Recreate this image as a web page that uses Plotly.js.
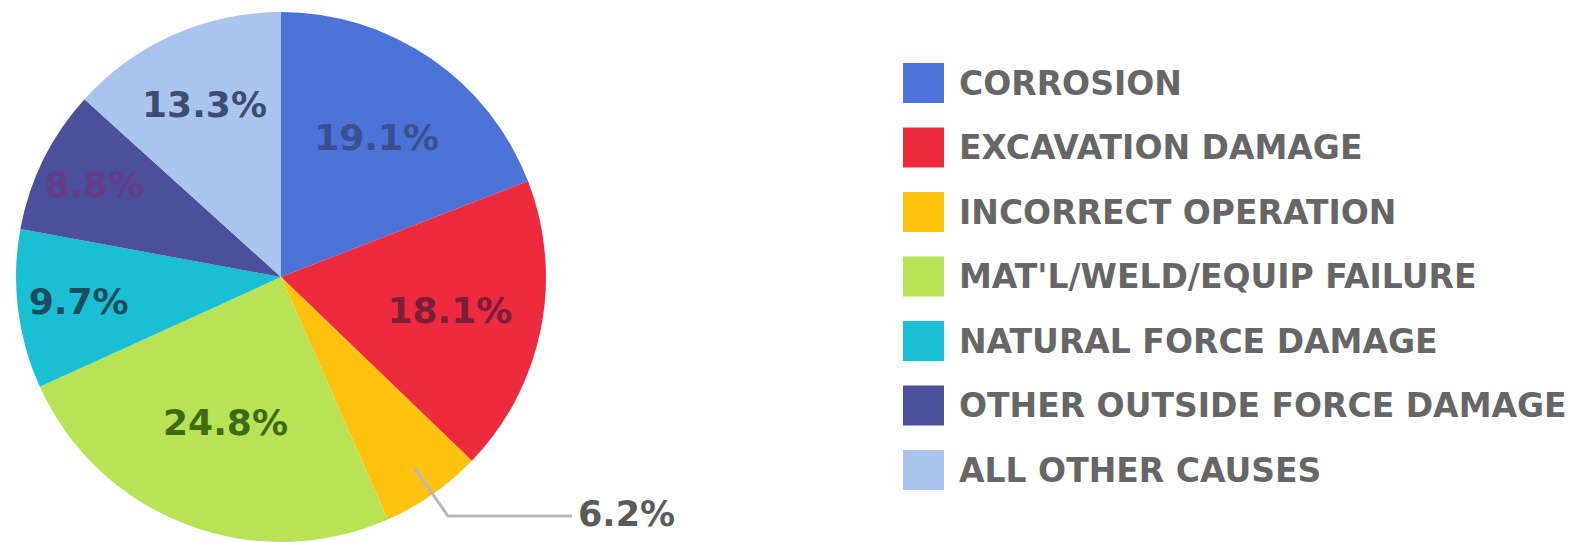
<!DOCTYPE html>
<html>
<head>
<meta charset="utf-8">
<script src="https://cdn.plot.ly/plotly-3.0.1.min.js"></script>
<style>html,body{margin:0;padding:0;background:#fff;}#chart{width:1591px;height:542px;}</style>
</head>
<body>
<div id="chart"></div>
<script>
const categories = ["CORROSION","EXCAVATION DAMAGE","INCORRECT OPERATION","MAT'L/WELD/EQUIP FAILURE","NATURAL FORCE DAMAGE","OTHER OUTSIDE FORCE DAMAGE","ALL OTHER CAUSES"];
const values = [19.1, 18.1, 6.2, 24.8, 9.7, 8.8, 13.3];
const sliceColors = ["#4b73d8","#ee2a3f","#ffc20e","#b8e356","#1bbfd4","#4b4f9c","#aac4ee"];
const labelColors = ["#3a4f8f","#7a1f3a","#8a6a00","#3d6b12","#1b4d5e","#643f88","#3b4e72"];
const outsideIndex = 2;

const W = 1591, H = 542;
const cx = 281, cy = 277, R = 265;

const textTexts = values.map((v,i) => i === outsideIndex ? "" : v.toFixed(1) + "%");
const textPos = values.map((v,i) => i === outsideIndex ? "none" : "inside");

const trace = {
  type: "pie",
  labels: categories,
  values: values,
  sort: false,
  direction: "clockwise",
  rotation: 0,
  text: textTexts,
  textinfo: "text",
  textposition: textPos,
  insidetextorientation: "horizontal",
  insidetextfont: {family: "DejaVu Sans", size: 36, color: labelColors, weight: "bold"},
  marker: {colors: sliceColors, line: {width: 0}},
  domain: {x: [(cx - R) / W, (cx + R) / W], y: [Math.max(0, 1 - (cy + R) / H), 1 - (cy - R) / H]},
  showlegend: false,
  hoverinfo: "label+percent"
};

const shapes = [];
const annotations = [];

// legend built from categories and colours
const legX = 903, legW = 41, legTop = 83, legStep = 64.5;
categories.forEach((c, i) => {
  const yc = legTop + i * legStep;
  shapes.push({type: "rect", xref: "paper", yref: "paper",
    x0: legX / W, x1: (legX + legW) / W, y0: 1 - (yc + 20) / H, y1: 1 - (yc - 20) / H,
    fillcolor: sliceColors[i], line: {width: 0}});
  annotations.push({xref: "paper", yref: "paper", x: 957 / W, y: 1 - yc / H,
    xanchor: "left", yanchor: "middle", showarrow: false, text: c,
    font: {family: "DejaVu Sans", size: 33, color: "#666666", weight: "bold"}});
});

// leader line for the small slice, derived from its mid angle
const total = values.reduce((a, b) => a + b, 0);
const before = values.slice(0, outsideIndex).reduce((a, b) => a + b, 0);
const midFrac = (before + values[outsideIndex] / 2) / total;
const ang = midFrac * 2 * Math.PI;
const p0x = cx + Math.sin(ang) * R * 0.88, p0y = cy - Math.cos(ang) * R * 0.88;
const p1x = 448, p1y = 516, p2x = 572;
const px = x => x / W, py = y => 1 - y / H;
shapes.push({type: "path", xref: "paper", yref: "paper",
  path: `M ${px(p0x)} ${py(p0y)} L ${px(p1x)} ${py(p1y)} L ${px(p2x)} ${py(p1y)}`,
  line: {color: "#b8b8b8", width: 3}});
annotations.push({xref: "paper", yref: "paper", x: px(p2x + 4), y: py(p1y - 2),
  xanchor: "left", yanchor: "middle", showarrow: false,
  text: values[outsideIndex].toFixed(1) + "%",
  font: {family: "DejaVu Sans", size: 35, color: "#5a5a5a", weight: "bold"}});

const layout = {
  width: W, height: H,
  margin: {l: 0, r: 0, t: 0, b: 0},
  paper_bgcolor: "#ffffff",
  showlegend: false,
  shapes: shapes,
  annotations: annotations
};

Plotly.newPlot("chart", [trace], layout, {displayModeBar: false, staticPlot: true});
</script>
</body>
</html>
